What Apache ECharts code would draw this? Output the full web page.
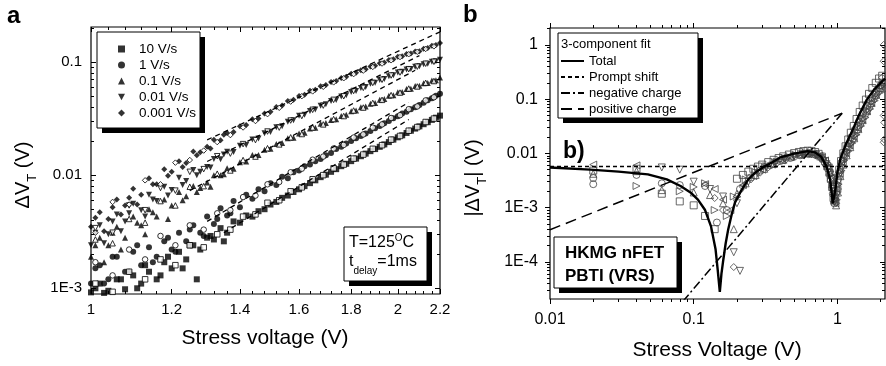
<!DOCTYPE html>
<html><head><meta charset="utf-8">
<script src="https://cdn.jsdelivr.net/npm/echarts@6/dist/echarts.min.js"></script>
<style>html,body{margin:0;padding:0;background:#fff}#c{width:886px;height:366px}</style>
</head><body><div id="c"></div>
<script>
const FONT = "'Liberation Sans', Arial, Helvetica, sans-serif";

// ---------- Panel a ----------
const aTickX = [1, 1.2, 1.4, 1.6, 1.8, 2, 2.2];
const aTickXLabels = ['1', '1.2', '1.4', '1.6', '1.8', '2', '2.2'];
const aMinorX = [1.04,1.08,1.12,1.16,1.24,1.28,1.32,1.36,1.44,1.48,1.52,1.56,1.64,1.68,1.72,1.76,1.84,1.88,1.92,1.96,2.04,2.08,2.12,2.16];
const aTickY = [0.001, 0.01, 0.1];
const aTickYLabels = ['1E-3', '0.01', '0.1'];
const aMinorY = [0.002,0.003,0.004,0.005,0.006,0.007,0.008,0.009,0.02,0.03,0.04,0.05,0.06,0.07,0.08,0.09,0.2];
const aLegend = ['10 V/s', '1 V/s', '0.1 V/s', '0.01 V/s', '0.001 V/s'];
const aSymbols = ['rect', 'circle', 'triangle', 'path://M0,0L10,0L5,9Z', 'diamond'];

const aV = [1.00,1.02,1.04,1.06,1.08,1.10,1.12,1.14,1.16,1.18,1.20,1.22,1.24,1.26,1.28,1.30,1.32,1.34,1.36,1.38,1.40,1.42,1.44,1.46,1.48,1.50,1.52,1.54,1.56,1.58,1.60,1.62,1.64,1.66,1.68,1.70,1.72,1.74,1.76,1.78,1.80,1.82,1.84,1.86,1.88,1.90,1.92,1.94,1.96,1.98,2.00,2.02,2.04,2.06,2.08,2.10,2.12,2.14,2.16,2.18,2.20];
const aVo = [1.01,1.05,1.09,1.13,1.17,1.21,1.25,1.29,1.33,1.37,1.41,1.45,1.49,1.53,1.57,1.61,1.65,1.69,1.73,1.77,1.81,1.85,1.89,1.93,1.97,2.01,2.05,2.09,2.13,2.17];

const a10 = [0.00092,0.0011,0.00095,0.0012,0.00098,0.0013,0.0011,0.0014,0.0012,0.0017,0.0015,0.0021,0.0018,0.0024,0.0022,0.0028,0.0027,0.0034,0.0031,0.0039,0.0038,0.0044,0.0043,0.0048,0.0050,0.0055,0.0058,0.0063,0.0066,0.0071,0.0075,0.0080,0.0085,0.0090,0.0096,0.0101,0.0107,0.0113,0.0120,0.0126,0.0133,0.0140,0.0147,0.0155,0.0163,0.0170,0.0178,0.0187,0.0196,0.0206,0.0216,0.0225,0.0236,0.0247,0.0258,0.0270,0.0282,0.0294,0.0308,0.0322,0.0336];
const a1 = [0.0011,0.0016,0.0012,0.0019,0.0014,0.0021,0.0016,0.0023,0.0019,0.0026,0.0022,0.0031,0.0026,0.0036,0.0031,0.0043,0.0037,0.0051,0.0044,0.0059,0.0052,0.0067,0.0062,0.0075,0.0072,0.0085,0.0082,0.0097,0.0094,0.0106,0.0110,0.0120,0.0124,0.0133,0.0139,0.0150,0.0157,0.0170,0.0178,0.0190,0.0200,0.0212,0.0222,0.0234,0.0246,0.0260,0.0272,0.0288,0.0301,0.0318,0.0331,0.0350,0.0363,0.0383,0.0398,0.0418,0.0436,0.0459,0.0479,0.0503,0.0525];
const a01 = [0.0019,0.0028,0.0024,0.0035,0.0028,0.0043,0.0036,0.0050,0.0043,0.0061,0.0054,0.0071,0.0065,0.0080,0.0077,0.0086,0.0100,0.0100,0.0115,0.0114,0.0130,0.0132,0.0151,0.0151,0.0168,0.0171,0.0189,0.0192,0.0212,0.0214,0.0233,0.0237,0.0258,0.0262,0.0284,0.0289,0.0308,0.0312,0.0334,0.0342,0.0367,0.0373,0.0398,0.0404,0.0428,0.0434,0.0463,0.0471,0.0503,0.0509,0.0540,0.0544,0.0577,0.0581,0.0613,0.0616,0.0649,0.0651,0.0685,0.0691,0.0728];
const a001 = [0.0024,0.0036,0.0030,0.0045,0.0039,0.0056,0.0049,0.0067,0.0059,0.0079,0.0074,0.0095,0.0089,0.0111,0.0107,0.0118,0.0139,0.0138,0.0161,0.0160,0.0182,0.0185,0.0207,0.0211,0.0235,0.0241,0.0265,0.0270,0.0296,0.0305,0.0335,0.0342,0.0369,0.0380,0.0410,0.0423,0.0453,0.0462,0.0495,0.0508,0.0543,0.0555,0.0590,0.0603,0.0642,0.0655,0.0695,0.0707,0.0748,0.0764,0.0807,0.0819,0.0857,0.0866,0.0907,0.0919,0.0958,0.0965,0.1005,0.1016,0.105];
const a0001 = [0.0035,0.0047,0.0041,0.0061,0.0054,0.0076,0.0067,0.0094,0.0083,0.0113,0.0107,0.0133,0.0128,0.0162,0.0159,0.0178,0.0206,0.0203,0.0236,0.0241,0.0271,0.0277,0.0312,0.0317,0.0351,0.0364,0.0401,0.0413,0.0453,0.0464,0.0502,0.0514,0.0557,0.0569,0.0611,0.0626,0.0665,0.0681,0.0722,0.0742,0.0787,0.0803,0.0848,0.0863,0.0912,0.0928,0.0976,0.0991,0.1041,0.1058,0.1112,0.1123,0.1177,0.1187,0.1239,0.1248,0.1311,0.1331,0.1392,0.1411,0.147];

const a10o = [0.0011,0.00093,0.0014,0.0012,0.0018,0.0016,0.0024,0.0023,0.0030,0.0033,0.0043,0.0045,0.0057,0.0060,0.0072,0.0078,0.0092,0.0100,0.0115,0.0124,0.0140,0.0152,0.0171,0.0184,0.0206,0.0222,0.0247,0.0266,0.0295,0.0316];
const a1o = [0.0017,0.0013,0.0022,0.0018,0.0029,0.0024,0.0036,0.0033,0.0046,0.0049,0.0064,0.0066,0.0083,0.0087,0.0106,0.0114,0.0137,0.0146,0.0172,0.0185,0.0215,0.0229,0.0263,0.0281,0.0320,0.0339,0.0383,0.0405,0.0458,0.0488];
const a01o = [0.0027,0.0025,0.0041,0.0038,0.0059,0.0054,0.0079,0.0080,0.0103,0.0110,0.0136,0.0146,0.0173,0.0187,0.0216,0.0231,0.0264,0.0281,0.0313,0.0333,0.0373,0.0396,0.0435,0.0463,0.0510,0.0537,0.0583,0.0608,0.0655,0.0679];
const a001o = [0.0034,0.0031,0.0054,0.0049,0.0077,0.0073,0.0107,0.0113,0.0147,0.0155,0.0188,0.0204,0.0243,0.0263,0.0304,0.0333,0.0378,0.0412,0.0463,0.0498,0.0555,0.0591,0.0653,0.0697,0.0760,0.0808,0.0864,0.0910,0.0966,0.1005];
const a0001o = [0.0031,0.0058,0.0055,0.0090,0.0083,0.0129,0.0136,0.0165,0.0196,0.0226,0.0264,0.0301,0.0346,0.0394,0.0447,0.0499,0.0550,0.0604,0.0661,0.0719,0.0782,0.0840,0.0905,0.0970,0.1036,0.1107,0.1172,0.1233,0.1306,0.1376];

// extra noisy low-voltage points per rate
const a10xV = [1.01,1.03,1.07,1.11,1.13,1.17,1.19,1.23,1.25,1.27,1.31,1.35];
const a10xY = [0.0010,0.00091,0.0012,0.0010,0.0016,0.0013,0.0019,0.0015,0.0024,0.0012,0.0029,0.0026];
const a1xV = [1.01,1.03,1.05,1.09,1.11,1.15,1.19,1.21,1.25,1.29,1.33,1.37];
const a1xY = [0.0015,0.0011,0.0019,0.0014,0.0024,0.0017,0.0028,0.0021,0.0033,0.0029,0.0041,0.0046];
const a01xV = [1.01,1.03,1.05,1.07,1.11,1.13,1.15,1.19,1.23,1.27,1.31,1.35];
const a01xY = [0.0024,0.0017,0.0031,0.0022,0.0038,0.0030,0.0047,0.0041,0.0060,0.0071,0.0079,0.0102];
const a001xV = [1.01,1.03,1.05,1.07,1.09,1.13,1.15,1.19,1.23,1.27,1.31,1.35];
const a001xY = [0.0031,0.0025,0.0039,0.0032,0.0046,0.0043,0.0061,0.0066,0.0082,0.0100,0.0117,0.0152];
const a0001xV = [1.01,1.03,1.05,1.07,1.09,1.11,1.15,1.19,1.23,1.27,1.31,1.35];
const a0001xY = [0.0042,0.0032,0.0052,0.0045,0.0063,0.0055,0.0083,0.0099,0.0118,0.0150,0.0172,0.0228];

// dashed power-law guide lines: [start V, end V] and [start y, end y] per rate
const aFitV = [[1.35, 2.05], [1.3, 2.05], [1.25, 2.08], [1.3, 2.1], [1.3, 2.2]];
const aFitY = [[0.0031, 0.031], [0.0039, 0.044], [0.0073, 0.0845], [0.0132, 0.114], [0.0205, 0.185]];

// ---------- Panel b ----------
const bTickX = [0.01, 0.1, 1];
const bTickXLabels = ['0.01', '0.1', '1'];
const bMinorX = [0.02,0.03,0.04,0.05,0.06,0.07,0.08,0.09,0.2,0.3,0.4,0.5,0.6,0.7,0.8,0.9,2];
const bTickY = [0.0001, 0.001, 0.01, 0.1, 1];
const bTickYLabels = ['1E-4', '1E-3', '0.01', '0.1', '1'];
const bMinorY = [3e-5,4e-5,5e-5,6e-5,7e-5,8e-5,9e-5,2e-4,3e-4,4e-4,5e-4,6e-4,7e-4,8e-4,9e-4,0.002,0.003,0.004,0.005,0.006,0.007,0.008,0.009,0.02,0.03,0.04,0.05,0.06,0.07,0.08,0.09,0.2,0.3,0.4,0.5,0.6,0.7,0.8,0.9,2];
const bLegend = ['Total', 'Prompt shift', 'negative charge', 'positive charge'];

const bTotalV = [0.01,0.019,0.03,0.048,0.065,0.081,0.095,0.107,0.12,0.132,0.142,0.147,0.152,0.156,0.16,0.167,0.174,0.185,0.194,0.215,0.24,0.27,0.31,0.35,0.4,0.5,0.62,0.7,0.77,0.84,0.89,0.93,0.97,1.0,1.05,1.15,1.27,1.4,1.6,1.8,2.0,2.15];
const bTotalY = [0.0055,0.005,0.0046,0.0041,0.0033,0.0025,0.0019,0.0014,0.0009,0.00045,0.00017,0.00007,0.000028,0.00006,0.0001,0.00022,0.0004,0.0008,0.00125,0.0021,0.0033,0.0045,0.0057,0.0068,0.0084,0.0099,0.011,0.0104,0.0087,0.0058,0.0033,0.0012,0.0022,0.0045,0.008,0.015,0.026,0.048,0.097,0.15,0.2,0.24];
const bPromptV = [0.01, 2.145];
const bPromptY = [0.0057, 0.0057];
const bNegV = [0.084, 1.08];
const bNegY = [0.0000185, 0.055];
const bPosV = [0.01, 1.08];
const bPosY = [0.00039, 0.055];

const bSqV = [0.02,0.04,0.06,0.08,0.1,0.12,0.14,0.2,0.22,0.24,0.26,0.28,0.3,0.33,0.36,0.39,0.42,0.46,0.5,0.54,0.58,0.62,0.66,0.7,0.74,0.78,0.82,0.85,0.88,0.9,0.92,0.94,0.96,0.98,1.0,1.03,1.06,1.1,1.14,1.19,1.24,1.3,1.36,1.43,1.5,1.58,1.66,1.75,1.85,1.95,2.05];
const bSqY = [0.0048,0.0052,0.0018,0.0013,0.0011,0.0007,0.0004,0.0034,0.0040,0.0046,0.0052,0.0057,0.0062,0.0069,0.0076,0.0082,0.0088,0.0095,0.0101,0.0106,0.0110,0.0112,0.0111,0.0106,0.0098,0.0087,0.0072,0.0058,0.0044,0.0034,0.0024,0.0015,0.0013,0.0020,0.0032,0.0050,0.0072,0.0100,0.0135,0.018,0.024,0.032,0.043,0.058,0.076,0.098,0.125,0.16,0.2,0.24,0.27];
const bCiV = [0.02,0.02,0.04,0.06,0.08,0.12,0.145,0.17,0.21,0.25,0.29,0.34,0.4,0.47,0.55,0.63,0.71,0.79,0.86,0.9,0.93,0.95,0.97,0.99,1.02,1.06,1.11,1.17,1.24,1.32,1.41,1.51,1.62,1.74,1.87,2.0,2.1];
const bCiY = [0.0035,0.0027,0.0040,0.0028,0.0026,0.0025,0.00053,0.0009,0.0022,0.0036,0.0048,0.006,0.0072,0.0082,0.0092,0.0097,0.0093,0.0078,0.0052,0.0032,0.0018,0.0012,0.0016,0.0026,0.0042,0.0066,0.0095,0.0135,0.0195,0.027,0.038,0.055,0.075,0.105,0.14,0.18,0.2];
const bUpV = [0.02,0.04,0.06,0.1,0.13,0.16,0.19,0.2,0.23,0.27,0.31,0.36,0.42,0.48,0.55,0.62,0.69,0.76,0.83,0.88,0.92,0.95,0.98,1.01,1.05,1.1,1.16,1.23,1.31,1.4,1.5,1.61,1.73,1.86,2.0,2.12];
const bUpY = [0.0042,0.0047,0.0021,0.0019,0.0017,0.0012,0.0004,0.0018,0.0028,0.0040,0.0052,0.0064,0.0076,0.0087,0.0096,0.0101,0.0098,0.0088,0.0068,0.0046,0.0027,0.0014,0.0011,0.0019,0.0038,0.0062,0.0092,0.013,0.019,0.028,0.041,0.06,0.085,0.12,0.16,0.21];
const bDnV = [0.06,0.08,0.1,0.13,0.16,0.19,0.21,0.2,0.24,0.28,0.32,0.37,0.43,0.5,0.57,0.64,0.71,0.78,0.84,0.89,0.93,0.96,0.99,1.02,1.07,1.13,1.2,1.28,1.37,1.47,1.58,1.7,1.83,1.97,2.1];
const bDnY = [0.0055,0.0050,0.0030,0.0022,0.0016,0.00015,0.000068,0.0012,0.0030,0.0043,0.0055,0.0067,0.0079,0.0089,0.0098,0.0100,0.0095,0.0082,0.0063,0.0040,0.0022,0.0013,0.0017,0.0030,0.0052,0.0080,0.0115,0.016,0.023,0.033,0.048,0.068,0.098,0.135,0.19];
const bLtV = [0.02,0.04,0.12,0.14,0.16,0.18,0.22,0.26,0.3,0.35,0.41,0.47,0.54,0.61,0.68,0.75,0.82,0.87,0.91,0.94,0.97,1.0,1.04,1.09,1.15,1.22,1.3,1.39,1.49,1.6,1.72,1.85,1.99];
const bLtY = [0.0062,0.0060,0.0027,0.0022,0.0014,0.0009,0.0026,0.0038,0.0050,0.0062,0.0074,0.0085,0.0094,0.0099,0.0097,0.0090,0.0074,0.0055,0.0035,0.0019,0.0012,0.0022,0.0042,0.0068,0.0100,0.014,0.020,0.029,0.042,0.061,0.087,0.12,0.17];
const bRtV = [0.04,0.08,0.1,0.12,0.14,0.17,0.19,0.23,0.27,0.32,0.38,0.45,0.52,0.6,0.67,0.74,0.8,0.86,0.9,0.93,0.96,0.99,1.02,1.07,1.12,1.19,1.27,1.36,1.46,1.57,1.69,1.82,1.96,2.08];
const bRtY = [0.0025,0.0020,0.0024,0.0028,0.0009,0.0007,0.0016,0.0033,0.0045,0.0058,0.0070,0.0082,0.0092,0.0100,0.0100,0.0092,0.0080,0.0060,0.0040,0.0024,0.0014,0.0014,0.0027,0.0048,0.0075,0.011,0.0155,0.022,0.032,0.046,0.066,0.094,0.13,0.18];
const bDiV = [0.14,0.16,0.19,0.2,0.22,0.25,0.29,0.33,0.38,0.44,0.51,0.58,0.66,0.73,0.8,0.85,0.89,0.92,0.95,0.98,1.01,1.05,1.1,1.16,1.22,1.3,1.38,1.48,1.58,1.7,1.82,1.95,2.05,2.1,2.1,2.1,2.1,2.1,2.12,2.12];
const bDiY = [0.0015,0.0009,0.00008,0.0016,0.0024,0.0033,0.0044,0.0055,0.0066,0.0077,0.0087,0.0094,0.0097,0.0092,0.0080,0.0065,0.0047,0.0030,0.0016,0.0012,0.0022,0.0045,0.0072,0.0105,0.015,0.021,0.03,0.043,0.062,0.088,0.12,0.16,0.25,1.0,0.5,0.15,0.05,0.016,0.037,0.018];

// ---------- helpers ----------
const zip = (xs, ys) => xs.map((x, i) => [x, ys[i]]);
function fmt(ticks, labels) {
  return v => {
    let best = 0, d = Infinity;
    ticks.forEach((t, i) => { const e = Math.abs(Math.log10(v) - Math.log10(t)); if (e < d) { d = e; best = i; } });
    return labels[best];
  };
}
function axis(grid, pos, min, max, vals, len, inside, label) {
  return {
    type: 'log', logBase: 10, gridIndex: grid, position: pos, min: min, max: max,
    axisLine: { show: false }, splitLine: { show: false }, minorTick: { show: false },
    axisTick: { show: true, inside: inside, length: len, customValues: vals, lineStyle: { color: '#000', width: 1 } },
    axisLabel: label ? Object.assign({ show: true, customValues: vals, color: '#000', fontFamily: FONT, hideOverlap: false }, label) : { show: false },
    silent: true
  };
}

const aXmin = 1, aXmax = 2.2, aYmin = 8.9e-4, aYmax = 0.204;
const bXmin = 0.01, bXmax = 2.145, bYmin = 2.06e-5, bYmax = 2.05;

const xAxes = [
  axis(0, 'bottom', aXmin, aXmax, aTickX, 5, true, { fontSize: 15, margin: 8, formatter: fmt(aTickX, aTickXLabels) }),
  axis(0, 'bottom', aXmin, aXmax, aMinorX, 3, true, null),
  axis(0, 'top', aXmin, aXmax, aTickX, 5, true, null),
  axis(0, 'top', aXmin, aXmax, aMinorX, 3, true, null),
  axis(1, 'bottom', bXmin, bXmax, bTickX, 5, false, { fontSize: 16, margin: 13, formatter: fmt(bTickX, bTickXLabels) }),
  axis(1, 'bottom', bXmin, bXmax, bMinorX, 3, false, null),
  axis(1, 'top', bXmin, bXmax, bTickX, 5, false, null),
  axis(1, 'top', bXmin, bXmax, bMinorX, 3, false, null)
];
const yAxes = [
  axis(0, 'left', aYmin, aYmax, aTickY, 5, true, { fontSize: 15, margin: 9, formatter: fmt(aTickY, aTickYLabels) }),
  axis(0, 'left', aYmin, aYmax, aMinorY, 3, true, null),
  axis(0, 'right', aYmin, aYmax, aTickY, 5, true, null),
  axis(0, 'right', aYmin, aYmax, aMinorY, 3, true, null),
  axis(1, 'left', bYmin, bYmax, bTickY, 5, false, { fontSize: 16, margin: 12, formatter: fmt(bTickY, bTickYLabels) }),
  axis(1, 'left', bYmin, bYmax, bMinorY, 3, false, null),
  axis(1, 'right', bYmin, bYmax, bTickY, 5, true, null),
  axis(1, 'right', bYmin, bYmax, bMinorY, 3, true, null)
];

const series = [];
const aFilled = [a10, a1, a01, a001, a0001];
const aOpen = [a10o, a1o, a01o, a001o, a0001o];
const aExtraV = [a10xV, a1xV, a01xV, a001xV, a0001xV];
const aExtraY = [a10xY, a1xY, a01xY, a001xY, a0001xY];
aLegend.forEach((name, i) => {
  series.push({ type: 'scatter', name: name, xAxisIndex: 0, yAxisIndex: 0, data: zip(aV, aFilled[i]),
    symbol: aSymbols[i], symbolSize: 6, itemStyle: { color: '#000' }, z: 3, silent: true });
});
aLegend.forEach((name, i) => {
  series.push({ type: 'scatter', name: name + ' (low V)', xAxisIndex: 0, yAxisIndex: 0, data: zip(aExtraV[i], aExtraY[i]),
    symbol: aSymbols[i], symbolSize: 6, itemStyle: { color: '#000' }, z: 3, silent: true });
});
aLegend.forEach((name, i) => {
  series.push({ type: 'scatter', name: name + ' (open)', xAxisIndex: 0, yAxisIndex: 0, data: zip(aVo, aOpen[i]),
    symbol: aSymbols[i], symbolSize: 5.5,
    itemStyle: { color: '#fff', borderColor: '#000', borderWidth: 1 }, z: 4, silent: true });
});
aFitV.forEach((vs, i) => {
  series.push({ type: 'line', name: 'fit' + i, xAxisIndex: 0, yAxisIndex: 0, data: zip(vs, aFitY[i]),
    symbol: 'none', lineStyle: { color: '#000', width: 1.3, type: [5, 4] }, z: 5, silent: true });
});

const bMarks = [
  ['sq', bSqV, bSqY, 'rect', 0],
  ['ci', bCiV, bCiY, 'circle', 0],
  ['up', bUpV, bUpY, 'triangle', 0],
  ['dn', bDnV, bDnY, 'triangle', 180],
  ['lt', bLtV, bLtY, 'triangle', 90],
  ['rt', bRtV, bRtY, 'triangle', -90],
  ['di', bDiV, bDiY, 'diamond', 0]
];
bMarks.forEach(m => {
  series.push({ type: 'scatter', name: 'm_' + m[0], xAxisIndex: 4, yAxisIndex: 4, data: zip(m[1], m[2]),
    symbol: m[3], symbolRotate: m[4], symbolSize: 7,
    itemStyle: { color: 'rgba(255,255,255,0)', borderColor: '#444', borderWidth: 1 }, z: 3, silent: true });
});
series.push({ type: 'line', name: 'Prompt shift', xAxisIndex: 4, yAxisIndex: 4, data: zip(bPromptV, bPromptY),
  symbol: 'none', itemStyle: { color: '#000' }, lineStyle: { color: '#000', width: 1.5, type: [4, 3] }, z: 5, silent: true });
series.push({ type: 'line', name: 'negative charge', xAxisIndex: 4, yAxisIndex: 4, data: zip(bNegV, bNegY),
  symbol: 'none', itemStyle: { color: '#000' }, lineStyle: { color: '#000', width: 1.5, type: [9, 3, 2, 3] }, z: 5, silent: true });
series.push({ type: 'line', name: 'positive charge', xAxisIndex: 4, yAxisIndex: 4, data: zip(bPosV, bPosY),
  symbol: 'none', itemStyle: { color: '#000' }, lineStyle: { color: '#000', width: 1.5, type: [11, 6] }, z: 5, silent: true });
series.push({ type: 'line', name: 'Total', xAxisIndex: 4, yAxisIndex: 4, data: zip(bTotalV, bTotalY),
  symbol: 'none', itemStyle: { color: '#000' }, lineStyle: { color: '#000', width: 2.4 }, z: 6, silent: true });

function box(x, y, w, h) {
  return [
    { type: 'rect', shape: { x: x + 5, y: y + 5, width: w, height: h }, style: { fill: '#000' }, z: 100, silent: true },
    { type: 'rect', shape: { x: x, y: y, width: w, height: h }, style: { fill: '#fff', stroke: '#000', lineWidth: 1 }, z: 101, silent: true }
  ];
}
function txt(x, y, text, size, opts) {
  return Object.assign({ type: 'text', x: x, y: y, z: 130, silent: true,
    style: Object.assign({ text: text, fontSize: size, fontFamily: FONT, fill: '#000', align: 'left', verticalAlign: 'middle' }, (opts && opts.style) || {}) },
    opts && opts.el ? opts.el : {});
}
const subRich = (big, small, bigLH, smallLH) => ({
  n: { fontSize: big, fontFamily: FONT, lineHeight: bigLH, verticalAlign: 'top' },
  s: { fontSize: small, fontFamily: FONT, lineHeight: smallLH, verticalAlign: 'bottom' }
});

const graphics = [].concat(
  box(97, 32, 103, 96),
  box(344, 227, 83, 54),
  box(558, 33, 140, 85),
  box(554, 237, 123, 51),
  [
    txt(7, 16, 'a', 24, { style: { fontWeight: 'bold' } }),
    txt(463, 15, 'b', 24, { style: { fontWeight: 'bold' } }),
    txt(561, 44, '3-component fit', 13),
    txt(563, 152, 'b)', 23, { style: { fontWeight: 'bold' } }),
    txt(565, 253, 'HKMG nFET', 17, { style: { fontWeight: 'bold' } }),
    txt(565, 276, 'PBTI (VRS)', 17, { style: { fontWeight: 'bold' } }),
    txt(349, 242, '{n|T=125}{p|O}{n|C}', 16, { style: { rich: {
      n: { fontSize: 16, fontFamily: FONT, lineHeight: 18, verticalAlign: 'bottom' },
      p: { fontSize: 10, fontFamily: FONT, lineHeight: 10, verticalAlign: 'top' } } } }),
    txt(349, 265, '{n|t}{s|delay}{n|=1ms}', 16, { style: { rich: subRich(16, 10, 18, 22) } }),
    txt(265, 338, 'Stress voltage (V)', 21, { style: { align: 'center' } }),
    txt(717, 350, 'Stress Voltage (V)', 21, { style: { align: 'center' } }),
    txt(26, 175, '{n|ΔV}{s|T}{n| (V)}', 20, { style: { align: 'center', rich: subRich(20, 13, 22, 25) }, el: { rotation: Math.PI / 2 } }),
    txt(476, 178, '{n||ΔV}{s|T}{n|| (V)}', 20, { style: { align: 'center', rich: subRich(20, 13, 22, 25) }, el: { rotation: Math.PI / 2 } })
  ]
);

const chart = echarts.init(document.getElementById('c'), null, { renderer: 'canvas' });
chart.setOption({
  animation: false,
  backgroundColor: '#fff',
  grid: [
    { left: 91, top: 27, width: 349, height: 267, show: true, borderColor: '#000', borderWidth: 1.2, backgroundColor: 'transparent' },
    { left: 550, top: 28, width: 335, height: 271, show: true, borderColor: '#000', borderWidth: 1.2, backgroundColor: 'transparent' }
  ],
  xAxis: xAxes,
  yAxis: yAxes,
  legend: [
    { data: aLegend, left: 118, top: 41, orient: 'vertical', padding: 0, itemWidth: 7, itemHeight: 7, itemGap: 0,
      selectedMode: false, z: 120, textStyle: { fontSize: 13.5, fontFamily: FONT, color: '#000', lineHeight: 16, padding: [0, 0, 0, 9] } },
    { data: bLegend, left: 560, top: 53, orient: 'vertical', padding: 0, itemWidth: 23, itemHeight: 10, itemGap: 0,
      selectedMode: false, z: 120, itemStyle: { opacity: 0 },
      textStyle: { fontSize: 13, fontFamily: FONT, color: '#000', lineHeight: 16 } }
  ],
  graphic: graphics,
  series: series
});
</script>
</body></html>
